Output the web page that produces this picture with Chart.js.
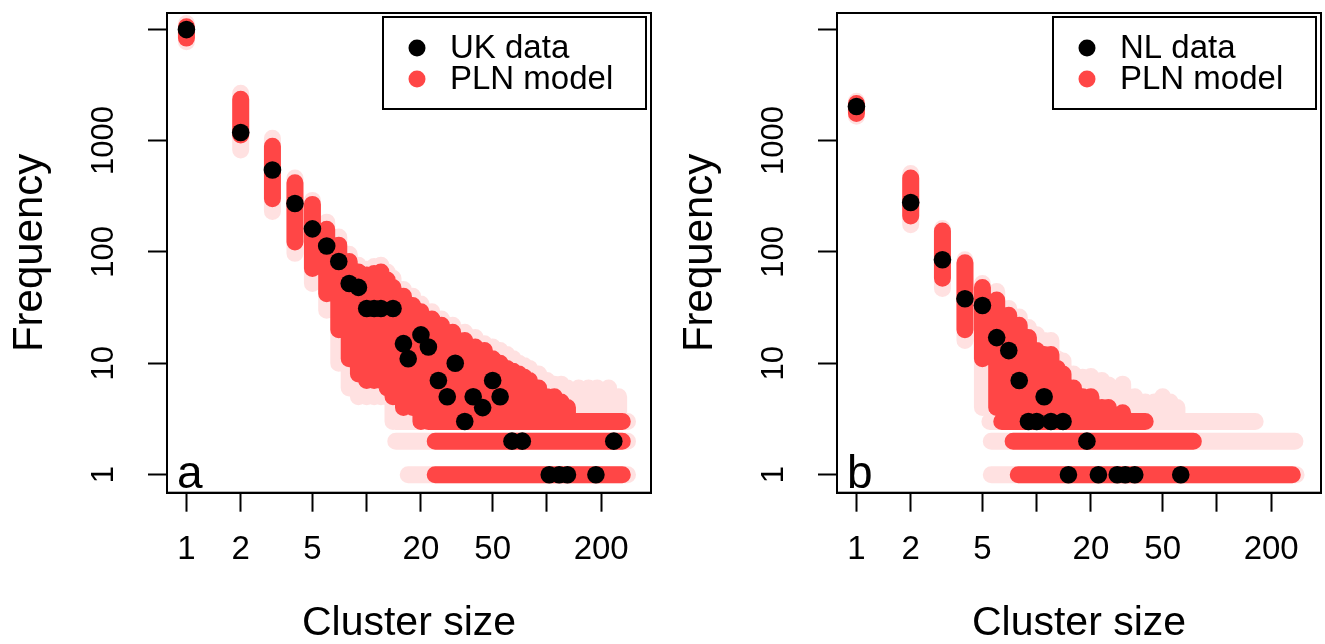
<!doctype html>
<html lang="en">
<head>
  <meta charset="utf-8">
  <title>Cluster size frequency: UK and NL data vs PLN model</title>
  <style>
    * { margin: 0; padding: 0; }
    body { width: 1325px; height: 644px; background: white; position: relative; overflow: hidden; }
    .panel { position: absolute; top: 0; width: 655px; height: 644px; }
    #panelA { left: 0; }
    #panelB { left: 670px; }
  </style>
</head>
<body>
  <div class="panel" id="panelA"><canvas id="chartA" width="655" height="644"></canvas></div>
  <div class="panel" id="panelB"><canvas id="chartB" width="655" height="644"></canvas></div>

  <script src="https://cdn.jsdelivr.net/npm/chart.js"></script>
  <script>
    // axes (log-log)
    const xTickValues = [1, 2, 5, 10, 20, 50, 100, 200];
    const xTickLabels = ['1', '2', '5', '', '20', '50', '', '200'];
    const yTickValues = [1, 10, 100, 1000, 10000];
    const yTickLabels = ['1', '10', '100', '1000', ''];

    // panel a: UK data
    const ukSize = [1, 2, 3, 4, 5, 6, 7, 8, 9, 10, 11, 12, 14, 16, 17, 20, 22, 25, 28, 31, 35, 39, 44, 50, 55, 64, 73, 103, 117, 130, 187, 235];
    const ukFreq = [9900, 1180, 543, 272, 161, 113, 82, 52, 48, 31, 31, 31, 31, 15, 11, 18, 14, 7, 5, 10, 3, 5, 4, 7, 5, 2, 2, 1, 1, 1, 1, 2];

    // panel a: PLN model cloud (dense core + faint halo per cluster size)
    const ukColSize = [1, 2, 3, 4, 5, 6, 7, 8, 9, 10, 11, 12, 13, 14, 16, 18, 20, 23, 26, 30, 35, 40, 45, 50, 55, 60, 65, 70, 75, 80, 90, 100, 110, 120, 130, 150, 170, 190, 220, 250];
    const ukCoreLo  = [8300, 1120, 300, 123, 71, 42, 20, 11, 8, 7, 7, 7, 6, 5, 4, 4, 3, 3, 3, 3, 3, 3, 3, 3, 3, 3, 3, 3, 3, 3, 3, 3, 3, 3, 3, null, null, null, null, null];
    const ukCoreHi  = [10500, 2340, 890, 418, 267, 160, 115, 82, 66, 62, 64, 66, 56, 48, 40, 33, 29, 25, 22, 19, 16, 14, 13, 11, 10, 9, 8.5, 8, 7.5, 7, 6, 5, 5, 4.5, 4, null, null, null, null, null];
    const ukHaloLo  = [7700, 820, 230, 97, 52, 30, 10, 6, 5, 5, 5, 5, 5, 3, 3, 3, 3, 3, 3, 3, 3, 3, 3, 3, 3, 3, 3, 3, 3, 3, 3, 3, 3, 3, 3, 3, 3, 3, 3, 3];
    const ukHaloHi  = [11200, 2650, 1050, 460, 290, 185, 136, 95, 76, 70, 74, 76, 66, 58, 46, 40, 34, 29, 25, 22, 19, 17, 15, 14, 13, 12, 11, 10, 9.5, 9, 8, 7, 6.5, 6.5, 6, 6, 6, 6, 6, 5];
    // low frequencies form horizontal rows
    const ukRowFreq     = [1, 2, 3];
    const ukRowCoreFrom = [24, 24, 22];
    const ukRowCoreTo   = [262, 262, 262];
    const ukRowHaloFrom = [17, 14.5, 14.5];
    const ukRowHaloTo   = [280, 280, 280];

    // panel b: NL data
    const nlSize = [1, 2, 3, 4, 5, 6, 7, 8, 9, 10, 11, 12, 14, 15, 19, 22, 28, 31, 35, 63];
    const nlFreq = [2020, 278, 85, 38, 33, 17, 13, 7, 3, 3, 5, 3, 3, 1, 2, 1, 1, 1, 1, 1];

    // panel b: PLN model cloud
    const nlColSize = [1, 2, 3, 4, 5, 6, 7, 8, 9, 10, 11, 12, 13, 14, 16, 18, 20, 23, 25, 30, 35, 40, 45, 50, 55, 60];
    const nlCoreLo  = [1750, 210, 58, 20, 11, 4, 3, 3, 3, 3, 3, 3, 3, 3, 3, 3, 3, 3, 3, 3, null, null, null, null, null, null];
    const nlCoreHi  = [2150, 460, 154, 80, 48, 37, 27, 22, 17, 13, 12, 12, 9, 8, 6, 5, 5, 4, 4, 3.6, null, null, null, null, null, null];
    const nlHaloLo  = [1650, 175, 47, 16, 4, 4, 3, 3, 3, 3, 3, 3, 3, 3, 3, 3, 3, 3, 3, 3, 3, 3, 3, 3, 3, 3];
    const nlHaloHi  = [2250, 505, 162, 85, 52, 44, 31, 26, 21, 18, 16, 16, 11, 10.5, 8, 7.5, 7.6, 7, 6.4, 6.5, 5, 4.5, 4.5, 5, 4.5, 4];
    const nlRowFreq     = [1, 2, 3];
    const nlRowCoreFrom = [7.9, 7.4, 6.4];
    const nlRowCoreTo   = [262, 74, 40];
    const nlRowHaloFrom = [5.6, 5.6, 5.5];
    const nlRowHaloTo   = [275, 271, 163];

    const FONT = "'Liberation Sans', Arial, Helvetica, sans-serif";
    const RED = 'rgb(255, 70, 70)';
    const RED_FAINT = 'rgba(255, 40, 40, 0.14)';

    // vertical strokes (one per cluster size), broken by null points
    function columnPoints(sizes, lo, hi) {
      const pts = [];
      sizes.forEach((s, i) => {
        if (lo[i] == null) return;
        pts.push({x: s, y: lo[i]}, {x: s, y: hi[i]}, {x: s, y: null});
      });
      return pts;
    }
    // horizontal strokes (one per frequency level)
    function rowPoints(freqs, from, to) {
      const pts = [];
      freqs.forEach((f, i) => {
        pts.push({x: from[i], y: f}, {x: to[i], y: f}, {x: to[i], y: null});
      });
      return pts;
    }

    function cloudDataset(points, color, order) {
      return {
        label: 'cloud',
        data: points,
        showLine: true,
        spanGaps: false,
        borderColor: color,
        borderWidth: 17,
        borderCapStyle: 'round',
        borderJoinStyle: 'round',
        pointRadius: 0,
        pointHoverRadius: 0,
        order: order
      };
    }

    // box around plot, legend box and panel letter
    const rDecor = {
      id: 'rDecor',
      afterDatasetsDraw(chart, args, opts) {
        const {ctx, chartArea: a} = chart;
        ctx.save();
        ctx.strokeStyle = '#000';
        ctx.lineWidth = 2;
        ctx.strokeRect(a.left, a.top, a.right - a.left, a.bottom - a.top);

        // legend
        const w = 263, h = 92;
        const lx = a.right - 5 - w, ly = a.top + 4;
        ctx.fillStyle = '#fff';
        ctx.fillRect(lx, ly, w, h);
        ctx.strokeRect(lx, ly, w, h);
        ctx.font = '33px ' + FONT;
        ctx.textBaseline = 'middle';
        ctx.textAlign = 'left';
        opts.labels.forEach((txt, i) => {
          const cy = ly + 31 + i * 31;
          ctx.beginPath();
          ctx.fillStyle = opts.colors[i];
          ctx.arc(lx + 34, cy, 8.5, 0, Math.PI * 2);
          ctx.fill();
          ctx.fillStyle = '#000';
          ctx.fillText(txt, lx + 67, cy + 1);
        });

        // panel letter
        ctx.font = '46px ' + FONT;
        ctx.textBaseline = 'alphabetic';
        ctx.fillStyle = '#000';
        ctx.fillText(opts.letter, a.left + 10, a.bottom - 5);
        ctx.restore();
      }
    };

    function makeChart(canvasId, size, freq, cols, rows, legendLabels, letter) {
      const haloPts = columnPoints(cols.size, cols.haloLo, cols.haloHi)
        .concat(rowPoints(rows.freq, rows.haloFrom, rows.haloTo));
      const corePts = columnPoints(cols.size, cols.coreLo, cols.coreHi)
        .concat(rowPoints(rows.freq, rows.coreFrom, rows.coreTo));

      const data = {
        datasets: [
          {
            label: legendLabels[0],
            data: size.map((s, i) => ({x: s, y: freq[i]})),
            showLine: false,
            pointRadius: 8.8,
            pointHoverRadius: 8.8,
            pointBackgroundColor: '#000',
            pointBorderWidth: 0,
            order: 0
          },
          cloudDataset(corePts, RED, 1),
          cloudDataset(haloPts, RED_FAINT, 2)
        ]
      };

      const config = {
        type: 'scatter',
        data,
        options: {
          responsive: false,
          animation: false,
          events: [],
          layout: {
            autoPadding: false,
            padding: {top: 13, right: 4, bottom: 0, left: 0}
          },
          scales: {
            x: {
              type: 'logarithmic',
              position: 'bottom',
              min: 0.78,
              max: 378,
              afterBuildTicks: (s) => { s.ticks = xTickValues.map(v => ({value: v})); },
              afterFit: (s) => { s.height = 151.3; },
              ticks: {
                autoSkip: false,
                minRotation: 0,
                maxRotation: 0,
                padding: 22,
                color: '#000',
                font: {family: FONT, size: 33, lineHeight: 1},
                callback: (v, i) => xTickLabels[i]
              },
              grid: {
                display: true,
                drawOnChartArea: false,
                drawTicks: true,
                tickLength: 19,
                tickWidth: 2,
                tickColor: '#000'
              },
              border: {display: true, color: '#000', width: 2},
              title: {
                display: true,
                text: 'Cluster size',
                color: '#000',
                font: {family: FONT, size: 41, lineHeight: 1},
                padding: {top: 0, bottom: 0}
              }
            },
            y: {
              type: 'logarithmic',
              position: 'left',
              min: 0.689,
              max: 13950,
              afterBuildTicks: (s) => { s.ticks = yTickValues.map(v => ({value: v})); },
              afterFit: (s) => { s.width = 167; },
              ticks: {
                autoSkip: false,
                minRotation: 90,
                maxRotation: 90,
                crossAlign: 'center',
                padding: 9,
                color: '#000',
                // small lineHeight keeps the rotated labels from padding the top of the plot
                font: {family: FONT, size: 31, lineHeight: 0.2},
                callback: (v, i) => yTickLabels[i]
              },
              grid: {
                display: true,
                drawOnChartArea: false,
                drawTicks: true,
                tickLength: 19,
                tickWidth: 2,
                tickColor: '#000'
              },
              border: {display: true, color: '#000', width: 2},
              title: {
                display: true,
                text: 'Frequency',
                color: '#000',
                font: {family: FONT, size: 42, lineHeight: 1},
                padding: {top: 9, bottom: 0}
              }
            }
          },
          plugins: {
            legend: {display: false},
            tooltip: {enabled: false},
            rDecor: {
              labels: legendLabels,
              colors: ['#000', RED],
              letter: letter
            }
          }
        },
        plugins: [rDecor]
      };

      return new Chart(document.getElementById(canvasId), config);
    }

    makeChart('chartA', ukSize, ukFreq,
      {size: ukColSize, coreLo: ukCoreLo, coreHi: ukCoreHi, haloLo: ukHaloLo, haloHi: ukHaloHi},
      {freq: ukRowFreq, coreFrom: ukRowCoreFrom, coreTo: ukRowCoreTo, haloFrom: ukRowHaloFrom, haloTo: ukRowHaloTo},
      ['UK data', 'PLN model'], 'a');

    makeChart('chartB', nlSize, nlFreq,
      {size: nlColSize, coreLo: nlCoreLo, coreHi: nlCoreHi, haloLo: nlHaloLo, haloHi: nlHaloHi},
      {freq: nlRowFreq, coreFrom: nlRowCoreFrom, coreTo: nlRowCoreTo, haloFrom: nlRowHaloFrom, haloTo: nlRowHaloTo},
      ['NL data', 'PLN model'], 'b');
  </script>
</body>
</html>
